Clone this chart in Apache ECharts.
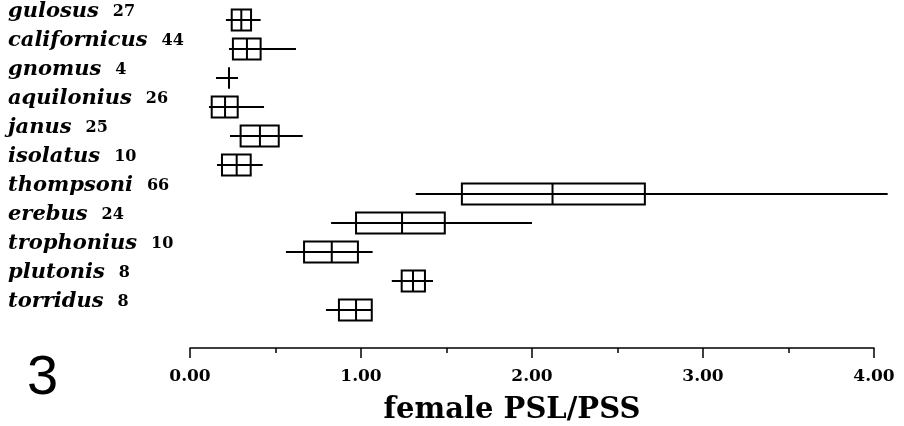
<!DOCTYPE html>
<html>
<head>
    <meta charset="utf-8">
    <title>female PSL/PSS</title>
    <script src="https://cdn.jsdelivr.net/npm/echarts@6/dist/echarts.min.js"></script>
    <style>
        html, body { margin: 0; padding: 0; background: #fff; }
        #chart { width: 904px; height: 426px; }
    </style>
</head>
<body>
<div id="chart"></div>
<script>
    // species and sample sizes, top to bottom
    var species = ['gulosus', 'californicus', 'gnomus', 'aquilonius', 'janus', 'isolatus',
        'thompsoni', 'erebus', 'trophonius', 'plutonis', 'torridus'];
    var counts = [27, 44, 4, 26, 25, 10, 66, 24, 10, 8, 8];

    // box plot values
    var lows    = [0.21, 0.228, 0.152, 0.111, 0.234, 0.158, 1.32, 0.825, 0.561, 1.18, 0.795];
    var q1s     = [0.244, 0.251, 0.228, 0.127, 0.296, 0.187, 1.59, 0.971, 0.667, 1.238, 0.871];
    var medians = [0.30, 0.333, 0.228, 0.205, 0.409, 0.273, 2.12, 1.24, 0.829, 1.304, 0.971];
    var q3s     = [0.357, 0.413, 0.228, 0.279, 0.519, 0.355, 2.66, 1.49, 0.982, 1.374, 1.063];
    var highs   = [0.413, 0.62, 0.281, 0.433, 0.659, 0.425, 4.08, 2.0, 1.068, 1.421, 1.064];

    var xTicks = [0, 1, 2, 3, 4];

    var chart = echarts.init(document.getElementById('chart'));

    var data = species.map(function (s, i) {
        return [i, lows[i], q1s[i], medians[i], q3s[i], highs[i]];
    });

    function renderBox(params, api) {
        var cat = api.value(0);
        var pLo = api.coord([api.value(1), cat]);
        var pQ1 = api.coord([api.value(2), cat]);
        var pMed = api.coord([api.value(3), cat]);
        var pQ3 = api.coord([api.value(4), cat]);
        var pHi = api.coord([api.value(5), cat]);
        var h = 21;
        var y = pLo[1];
        var st = { stroke: '#000', lineWidth: 2, fill: null };
        return {
            type: 'group',
            children: [
                { type: 'line', shape: { x1: pLo[0], y1: y, x2: pHi[0], y2: y }, style: st },
                { type: 'rect', shape: { x: pQ1[0], y: y - h / 2, width: pQ3[0] - pQ1[0], height: h }, style: st },
                { type: 'line', shape: { x1: pMed[0], y1: y - h / 2, x2: pMed[0], y2: y + h / 2 }, style: st }
            ]
        };
    }

    var option = {
        backgroundColor: '#fff',
        animation: false,
        title: {
            text: '3',
            left: 22,
            top: 346,
            textStyle: {
                fontFamily: 'Liberation Sans',
                fontWeight: 'normal',
                fontSize: 56,
                color: '#000'
            }
        },
        grid: { left: 190, right: 30, top: 5.5, bottom: 101.5, outerBoundsMode: 'none', containLabel: false },
        xAxis: {
            type: 'value',
            min: xTicks[0],
            max: xTicks[xTicks.length - 1],
            interval: 1,
            offset: 23.5,
            name: 'female PSL/PSS',
            nameLocation: 'middle',
            nameGap: 48,
            nameTextStyle: {
                fontFamily: 'DejaVu Serif',
                fontWeight: 'bold',
                fontSize: 29,
                color: '#000',
                padding: [0, 40, 0, 0]
            },
            axisLine: { show: true, lineStyle: { color: '#000', width: 1.5 } },
            axisTick: { show: true, length: 10, lineStyle: { color: '#000', width: 1.5 } },
            minorTick: { show: true, splitNumber: 2, length: 5, lineStyle: { color: '#000', width: 1.5 } },
            splitLine: { show: false },
            axisLabel: {
                margin: 20,
                fontFamily: 'DejaVu Serif',
                fontWeight: 'bold',
                fontSize: 17,
                color: '#000',
                formatter: function (v) { return v.toFixed(2); }
            }
        },
        yAxis: {
            type: 'category',
            data: species,
            inverse: true,
            axisLine: { show: false },
            axisTick: { show: false },
            splitLine: { show: false },
            axisLabel: {
                align: 'left',
                margin: 182,
                padding: [0, 0, 16, 0],
                formatter: function (v, i) {
                    return '{s|' + v + '}{n|' + counts[i] + '}';
                },
                rich: {
                    s: {
                        fontFamily: 'DejaVu Serif',
                        fontWeight: 'bold',
                        fontStyle: 'italic',
                        fontSize: 21,
                        color: '#000'
                    },
                    n: {
                        fontFamily: 'DejaVu Serif',
                        fontWeight: 'bold',
                        fontSize: 16,
                        color: '#000',
                        padding: [0, 0, 0, 14]
                    }
                }
            }
        },
        series: [{
            type: 'custom',
            renderItem: renderBox,
            encode: { x: [1, 2, 3, 4, 5], y: 0 },
            data: data,
            clip: false
        }]
    };

    chart.setOption(option);
</script>
</body>
</html>
